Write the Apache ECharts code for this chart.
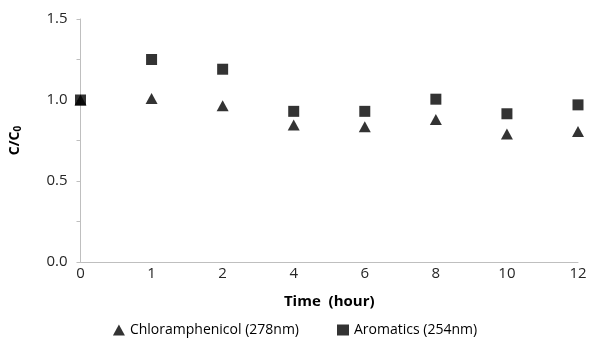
<!DOCTYPE html>
<html><head><meta charset="utf-8">
<script src="https://cdn.jsdelivr.net/npm/echarts@6/dist/echarts.min.js"></script>
<style>html,body{margin:0;padding:0;background:#fff}#c{width:590px;height:344px}</style>
</head><body><div id="c"></div>
<script>
const categories = ['0','1','2','4','6','8','10','12'];
const chloramphenicol = [1.00, 1.01, 0.965, 0.845, 0.835, 0.88, 0.79, 0.805];
const aromatics = [1.00, 1.25, 1.19, 0.93, 0.93, 1.005, 0.915, 0.97];
const yTicks = [0, 0.5, 1.0, 1.5];

const font = '"Open Sans", "Liberation Sans", sans-serif';
const chart = echarts.init(document.getElementById('c'));
chart.setOption({
  animation: false,
  grid: {left: 77, right: 12, top: 19, bottom: 82},
  legend: {
    bottom: 2, left: 'center', itemGap: 38, itemWidth: 12, itemHeight: 11,
    textStyle: {fontFamily: font, fontSize: 14, color: '#000'},
    data: [{name: 'Chloramphenicol (278nm)', icon: 'triangle'}, {name: 'Aromatics (254nm)', icon: 'rect'}]
  },
  xAxis: {
    type: 'category', data: categories, boundaryGap: false,
    name: 'Time  (hour)', nameLocation: 'middle', nameGap: 32,
    nameTextStyle: {fontFamily: font, fontSize: 15, fontWeight: 'bold', color: '#000'},
    axisLine: {lineStyle: {color: '#bfbfbf'}},
    axisTick: {show: false},
    axisLabel: {fontFamily: font, fontSize: 15, color: '#262626', margin: 4},
    splitLine: {show: false}
  },
  yAxis: {
    type: 'value', min: 0, max: 1.5, interval: 0.5,
    name: '{a|C/C}{s|0}', nameLocation: 'middle', nameGap: 57,
    nameTextStyle: {rich: {
      a: {fontFamily: font, fontSize: 14, fontWeight: 'bold', color: '#000'},
      s: {fontFamily: font, fontSize: 10, fontWeight: 'bold', color: '#000', verticalAlign: 'bottom', padding: [7,0,0,0]}
    }},
    axisLine: {show: true, lineStyle: {color: '#bfbfbf'}},
    axisTick: {show: true, length: 4, lineStyle: {color: '#bfbfbf'}},
    minorTick: {show: true, splitNumber: 2, length: 4, lineStyle: {color: '#bfbfbf'}},
    axisLabel: {fontFamily: font, fontSize: 15, color: '#262626', margin: 13,
      formatter: v => yTicks.includes(v) ? v.toFixed(1) : ''},
    splitLine: {show: false}
  },
  series: [
    {name: 'Chloramphenicol (278nm)', type: 'scatter', symbol: 'triangle', symbolSize: [12, 11],
     itemStyle: {color: '#000'}, data: chloramphenicol},
    {name: 'Aromatics (254nm)', type: 'scatter', symbol: 'rect', symbolSize: 11,
     itemStyle: {color: '#000'}, data: aromatics}
  ]
});
</script></body></html>
